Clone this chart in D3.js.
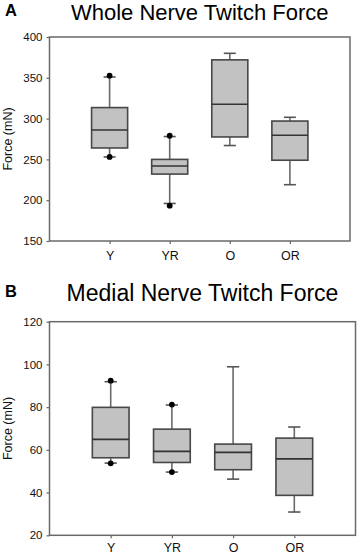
<!DOCTYPE html>
<html>
<head>
<meta charset="utf-8">
<script src="https://cdn.jsdelivr.net/npm/d3@7"></script>
<style>
  body { margin: 0; background: #fff; }
  text { font-family: "Liberation Sans", Arial, sans-serif; }
</style>
</head>
<body>
<div id="chart"></div>
<script>
// groups on the x axis
const categories = ["Y", "YR", "O", "OR"];

// panel A: whole nerve twitch force (mN)
const wholeLow  = [253, 196, 267, 219];
const wholeQ1   = [264, 232, 277.5, 249];
const wholeMed  = [286, 242, 317.5, 279.6];
const wholeQ3   = [313.5, 250, 372, 297];
const wholeHigh = [351, 278, 380, 301.6];
const wholeDots = [[253, 352.6], [193.3, 279], [], []];
const wholeTicks = [150, 200, 250, 300, 350, 400];

// panel B: medial nerve twitch force (mN)
const medialLow  = [53.8, 49.6, 46.3, 30.9];
const medialQ1   = [56.3, 54.1, 50.7, 38.7];
const medialMed  = [64.9, 59.3, 58.8, 55.8];
const medialQ3   = [79.9, 69.7, 62.7, 65.5];
const medialHigh = [91.9, 81, 98.9, 70.7];
const medialDots = [[53.7, 92.4], [49.6, 81.2], [], []];
const medialTicks = [20, 40, 60, 80, 100, 120];

var svg = d3.select("#chart")
  .append("svg")
  .attr("width", 358)
  .attr("height", 557);

function renderPanel(cfg) {
    var g = svg.append("g");

    var x = d3.scalePoint()
      .domain(categories)
      .range([cfg.left, cfg.right])
      .padding(1);

    var y = d3.scaleLinear()
      .domain(d3.extent(cfg.ticks))
      .range([cfg.bottom, cfg.top]);

    var step = x.step();
    var boxW = step * 0.6;
    var capW = step * 0.2;

    // letter + title
    g.append("text")
      .attr("x", 5)
      .attr("y", cfg.letterY)
      .style("font-size", "16.5px")
      .style("font-weight", "bold")
      .text(cfg.letter);

    g.append("text")
      .attr("x", (cfg.left + cfg.right) / 2)
      .attr("y", cfg.titleY)
      .attr("text-anchor", "middle")
      .style("font-size", cfg.titleSize)
      .text(cfg.title);

    // axes
    var yAxis = g.append("g")
      .attr("transform", "translate(" + cfg.left + ",0)")
      .call(d3.axisLeft(y).tickValues(cfg.ticks).tickSize(3).tickSizeOuter(0).tickPadding(4));
    yAxis.select(".domain").remove();
    yAxis.selectAll("line").attr("stroke", "#666").attr("stroke-width", 1.2);
    yAxis.selectAll("text")
      .style("font-size", "11.5px")
      .style("font-family", "'Liberation Sans', Arial, sans-serif")
      .attr("fill", "#111");

    var xAxis = g.append("g")
      .attr("transform", "translate(0," + cfg.bottom + ")")
      .call(d3.axisBottom(x).tickSize(3).tickSizeOuter(0).tickPadding(cfg.labelPad));
    xAxis.select(".domain").remove();
    xAxis.selectAll("line").attr("stroke", "#666").attr("stroke-width", 1.2);
    xAxis.selectAll("text")
      .style("font-size", "12.5px")
      .style("font-family", "'Liberation Sans', Arial, sans-serif")
      .attr("fill", "#111");

    // frame
    g.append("rect")
      .attr("x", cfg.left)
      .attr("y", cfg.top)
      .attr("width", cfg.right - cfg.left)
      .attr("height", cfg.bottom - cfg.top)
      .attr("fill", "none")
      .attr("stroke", "#6a6a6a")
      .attr("stroke-width", 1.5);

    g.append("text")
      .attr("transform", "translate(12," + (cfg.top + cfg.bottom) / 2 + ") rotate(-90)")
      .attr("text-anchor", "middle")
      .style("font-size", "12.5px")
      .attr("fill", "#111")
      .text("Force (mN)");

    var boxes = categories.map(function(c, i) {
        return {cat: c, low: cfg.low[i], q1: cfg.q1[i], med: cfg.med[i],
                q3: cfg.q3[i], high: cfg.high[i], dots: cfg.dots[i]};
    });

    var b = g.selectAll(".box")
      .data(boxes)
      .enter().append("g")
      .attr("class", "box");

    // whiskers
    b.append("line")
      .attr("x1", d => x(d.cat)).attr("x2", d => x(d.cat))
      .attr("y1", d => y(d.low)).attr("y2", d => y(d.high))
      .attr("stroke", "#6a6a6a").attr("stroke-width", 1.6);
    b.append("line")
      .attr("x1", d => x(d.cat) - capW / 2).attr("x2", d => x(d.cat) + capW / 2)
      .attr("y1", d => y(d.low)).attr("y2", d => y(d.low))
      .attr("stroke", "#555").attr("stroke-width", 1.6);
    b.append("line")
      .attr("x1", d => x(d.cat) - capW / 2).attr("x2", d => x(d.cat) + capW / 2)
      .attr("y1", d => y(d.high)).attr("y2", d => y(d.high))
      .attr("stroke", "#555").attr("stroke-width", 1.6);

    b.append("rect")
      .attr("x", d => x(d.cat) - boxW / 2)
      .attr("width", boxW)
      .attr("y", d => y(d.q3))
      .attr("height", d => y(d.q1) - y(d.q3))
      .attr("fill", "#c2c2c2")
      .attr("stroke", "#474747")
      .attr("stroke-width", 1.6);

    b.append("line")
      .attr("x1", d => x(d.cat) - boxW / 2).attr("x2", d => x(d.cat) + boxW / 2)
      .attr("y1", d => y(d.med)).attr("y2", d => y(d.med))
      .attr("stroke", "#333").attr("stroke-width", 1.6);

    b.selectAll("circle")
      .data(d => d.dots.map(v => ({cat: d.cat, v: v})))
      .enter().append("circle")
      .attr("cx", d => x(d.cat))
      .attr("cy", d => y(d.v))
      .attr("r", 2.9)
      .attr("fill", "#000");
}

renderPanel({letter: "A", title: "Whole Nerve Twitch Force", letterY: 15.5, titleY: 19.8, titleSize: "22px",
    labelPad: 7, left: 49.5, right: 350, top: 37, bottom: 241, ticks: wholeTicks,
    low: wholeLow, q1: wholeQ1, med: wholeMed, q3: wholeQ3, high: wholeHigh, dots: wholeDots});

renderPanel({letter: "B", title: "Medial Nerve Twitch Force", letterY: 296.7, titleY: 300.7, titleSize: "23px",
    labelPad: 5, left: 49.5, right: 355.5, top: 321.7, bottom: 535.3, ticks: medialTicks,
    low: medialLow, q1: medialQ1, med: medialMed, q3: medialQ3, high: medialHigh, dots: medialDots});
</script>
</body>
</html>
